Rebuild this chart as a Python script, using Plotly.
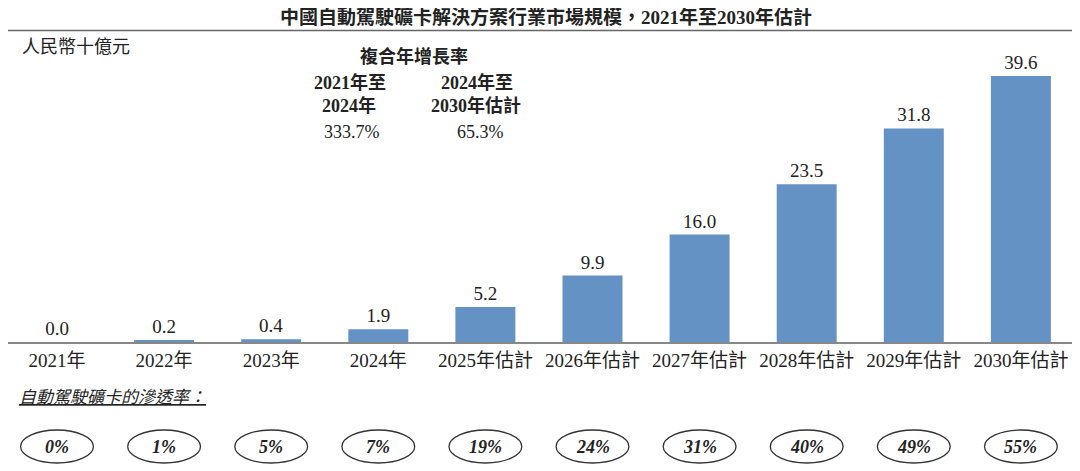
import plotly.graph_objects as go

categories = ["2021年", "2022年", "2023年", "2024年", "2025年估計", "2026年估計",
              "2027年估計", "2028年估計", "2029年估計", "2030年估計"]
values = [0.0, 0.2, 0.4, 1.9, 5.2, 9.9, 16.0, 23.5, 31.8, 39.6]
value_labels = ["0.0", "0.2", "0.4", "1.9", "5.2", "9.9", "16.0", "23.5", "31.8", "39.6"]
penetration = ["0%", "1%", "5%", "7%", "19%", "24%", "31%", "40%", "49%", "55%"]

SERIF = "Liberation Serif, Times New Roman, Noto Sans CJK TC, serif"
OFF = 8  # page body margin
W, H = 1072, 463
ML, MR = 0, 0
AXIS_Y = 342  # page y of axis
TOP_Y = 40    # page y of plot top
MT = TOP_Y - OFF
MB = H - (AXIS_Y - OFF)
ph = H - MT - MB
pw = W - ML - MR

def py(pagey):
    return (AXIS_Y - pagey) / ph

def px(pagex):
    return (pagex - OFF - ML) / pw

unit = 107.1
x0 = -(57 - OFF) / unit
x1 = x0 + pw / unit

fig = go.Figure()
fig.add_trace(go.Bar(
    x=categories, y=values, marker=dict(color="#6592c4", line=dict(width=0)),
    text=value_labels, textposition="outside", cliponaxis=False,
    textfont=dict(family=SERIF, size=19, color="#222"),
))

shapes = []
annotations = []

def ann(x, y, text, size=18, xanchor="center", xref="paper"):
    annotations.append(dict(x=x, y=y, xref=xref, yref="paper", text=text, showarrow=False,
                            xanchor=xanchor, yanchor="middle",
                            font=dict(family=SERIF, size=size, color="#222")))

for i, p in enumerate(penetration):
    shapes.append(dict(type="circle", xref="x", yref="paper",
                       x0=i - 0.34, x1=i + 0.34, y0=py(463), y1=py(430),
                       line=dict(color="#333", width=1.3)))
    ann(i, py(447), "<b><i>" + p + "</i></b>", size=18, xref="x")

# line below title
shapes.append(dict(type="line", xref="paper", yref="paper", x0=0, x1=1,
                   y0=py(30.5), y1=py(30.5), line=dict(color="#666", width=1.5)))

ann(px(546), py(17), "<b>中國自動駕駛礦卡解決方案行業市場規模，2021年至2030年估計</b>", size=19)
ann(px(20), py(47), "人民幣十億元", size=18, xanchor="left")
ann(px(414), py(57), "<b>複合年增長率</b>", size=18)
ann(px(350), py(83), "<b>2021年至</b>", size=18)
ann(px(349), py(105), "<b>2024年</b>", size=18)
ann(px(352), py(132), "333.7%", size=18)
ann(px(477), py(83), "<b>2024年至</b>", size=18)
ann(px(476), py(105), "<b>2030年估計</b>", size=18)
ann(px(480), py(132), "65.3%", size=18)
ann(px(17), py(397), "<i><u>自動駕駛礦卡的滲透率：</u></i>", size=17, xanchor="left")

fig.update_layout(
    width=W, height=H, margin=dict(l=ML, r=MR, t=MT, b=MB),
    paper_bgcolor="white", plot_bgcolor="white", showlegend=False,
    bargap=0.44, shapes=shapes, annotations=annotations,
    xaxis=dict(range=[x0, x1], showline=True, linecolor="#888", linewidth=1.5, ticks="",
               tickfont=dict(family=SERIF, size=19, color="#222"), showgrid=False),
    yaxis=dict(range=[0, 39.6 * ph / (AXIS_Y - 76)], visible=False, showgrid=False),
)
fig.write_html("out.html")
